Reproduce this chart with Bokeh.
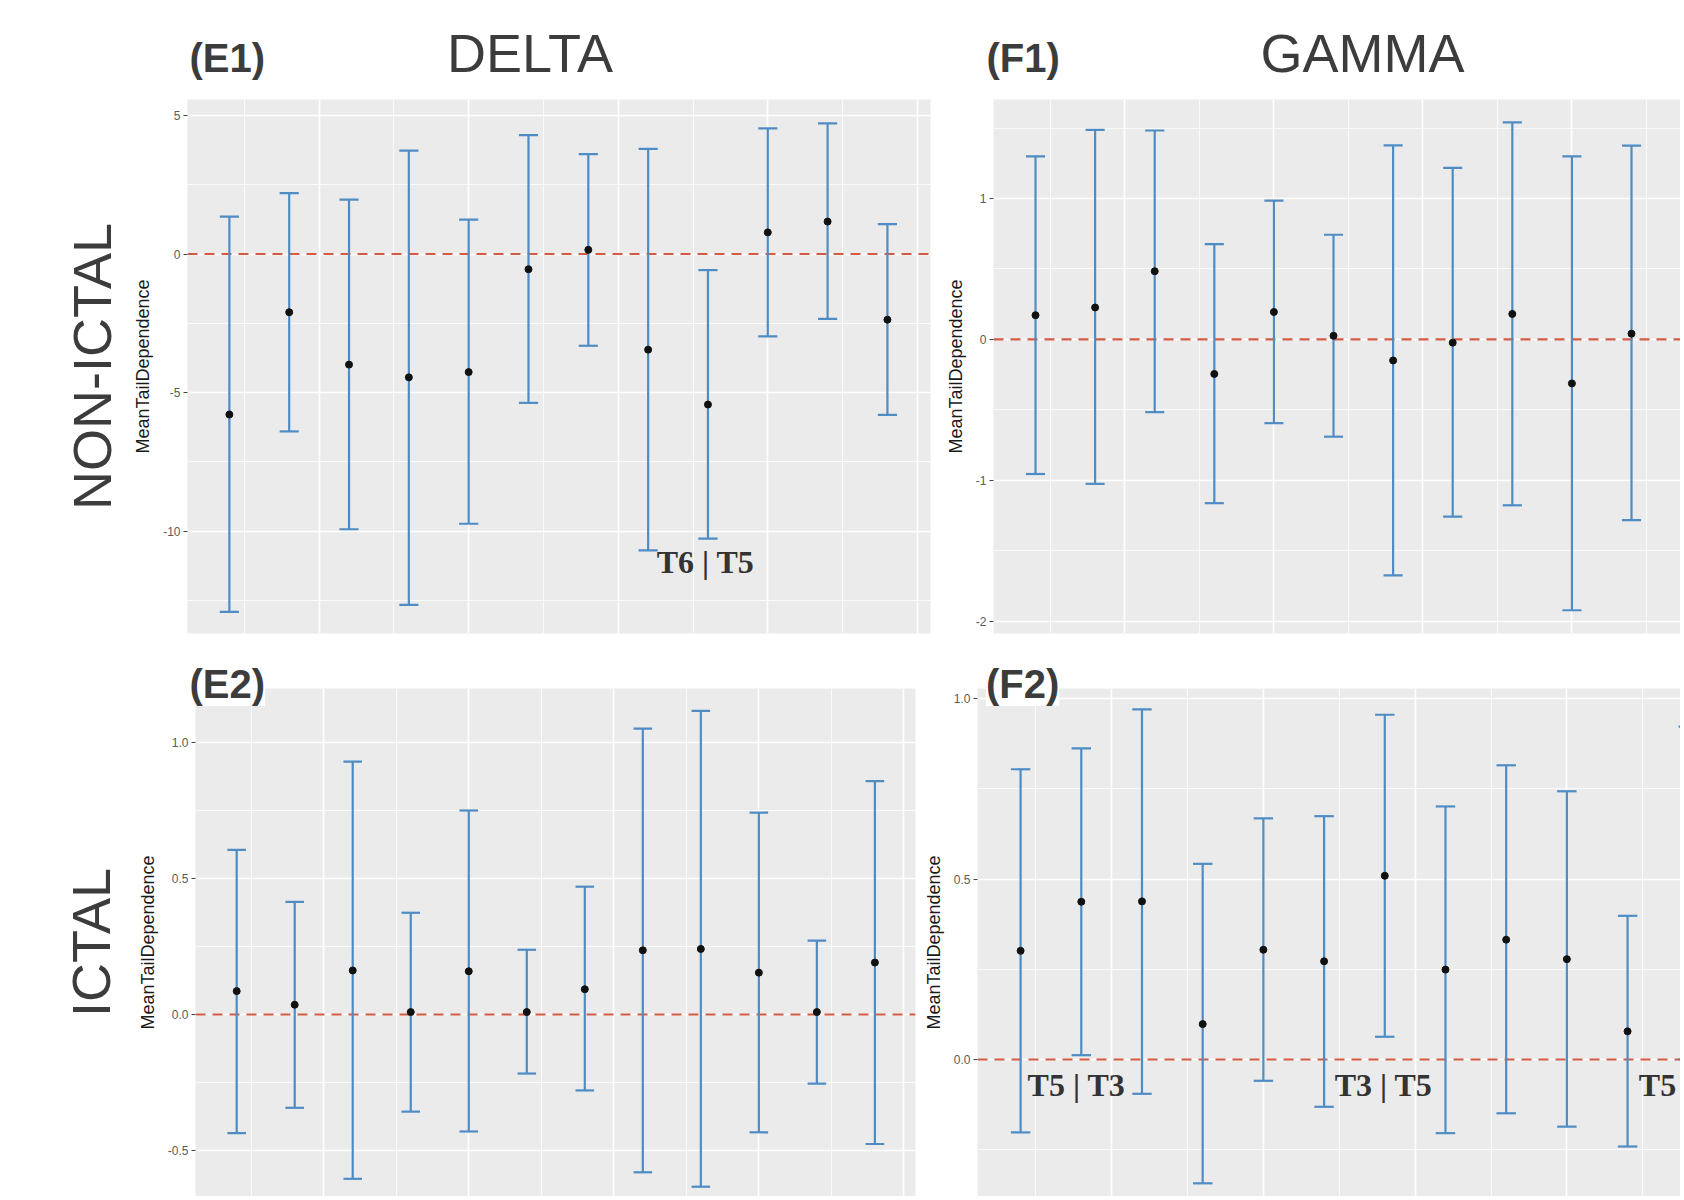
import numpy as np
from bokeh.plotting import figure
from bokeh.layouts import row, column
from bokeh.models import Range1d, FixedTicker, Span, Label, Title, ColumnDataSource
from bokeh.embed import file_html
from bokeh.resources import INLINE

# ---------------- data ----------------
pair_index = [1, 2, 3, 4, 5, 6, 7, 8, 9, 10, 11, 12]

# (E1) DELTA, NON-ICTAL
delta_nonictal_mean = [-5.79, -2.10, -3.99, -4.45, -4.26, -0.55, 0.15, -3.45, -5.43, 0.78, 1.17, -2.37]
delta_nonictal_lower = [-12.91, -6.40, -9.93, -12.66, -9.73, -5.37, -3.31, -10.69, -10.27, -2.97, -2.34, -5.80]
delta_nonictal_upper = [1.35, 2.20, 1.96, 3.73, 1.24, 4.29, 3.60, 3.79, -0.58, 4.53, 4.71, 1.08]

# (F1) GAMMA, NON-ICTAL
gamma_nonictal_mean = [0.172, 0.227, 0.484, -0.245, 0.195, 0.026, -0.149, -0.023, 0.181, -0.312, 0.041, -0.64]
gamma_nonictal_lower = [-0.955, -1.025, -0.516, -1.162, -0.594, -0.690, -1.675, -1.258, -1.177, -1.922, -1.282, -1.78]
gamma_nonictal_upper = [1.299, 1.488, 1.483, 0.676, 0.985, 0.743, 1.378, 1.218, 1.541, 1.299, 1.375, 0.507]

# (E2) DELTA, ICTAL
delta_ictal_mean = [0.086, 0.036, 0.162, 0.009, 0.159, 0.009, 0.093, 0.236, 0.241, 0.154, 0.009, 0.191]
delta_ictal_lower = [-0.436, -0.343, -0.604, -0.357, -0.430, -0.217, -0.279, -0.580, -0.633, -0.433, -0.254, -0.476]
delta_ictal_upper = [0.605, 0.414, 0.930, 0.374, 0.750, 0.238, 0.470, 1.051, 1.116, 0.742, 0.272, 0.858]

# (F2) GAMMA, ICTAL
gamma_ictal_mean = [0.301, 0.437, 0.438, 0.098, 0.304, 0.272, 0.509, 0.249, 0.332, 0.278, 0.078, 0.461]
gamma_ictal_lower = [-0.202, 0.012, -0.095, -0.343, -0.059, -0.131, 0.063, -0.204, -0.149, -0.186, -0.241, 0.0]
gamma_ictal_upper = [0.804, 0.862, 0.970, 0.542, 0.668, 0.674, 0.955, 0.701, 0.815, 0.743, 0.398, 0.922]

# tick values / labels
x_major_ticks = [2.5, 5, 7.5, 10, 12.5]
x_minor_ticks = [1.25, 3.75, 6.25, 8.75, 11.25]

e1_ticks = [5, 0, -5, -10]
e1_tick_labels = ["5", "0", "-5", "-10"]
e1_minor = [2.5, -2.5, -7.5, -12.5]

f1_ticks = [1, 0, -1, -2]
f1_tick_labels = ["1", "0", "-1", "-2"]
f1_minor = [1.5, 0.5, -0.5, -1.5]

e2_ticks = [1.0, 0.5, 0.0, -0.5]
e2_tick_labels = ["1.0", "0.5", "0.0", "-0.5"]
e2_minor = [0.75, 0.25, -0.25, -0.75]

f2_ticks = [1.0, 0.5, 0.0]
f2_tick_labels = ["1.0", "0.5", "0.0"]
f2_minor = [0.75, 0.25, -0.25]

# ---------------- styling ----------------
BAR_COLOR = "#4f8cc4"
POINT_COLOR = "#111111"
REF_COLOR = "#d35a43"
PANEL_BG = "#ebebeb"
CAP = 0.16
SANS = "Liberation Sans"
SERIF = "Liberation Serif"
TITLE_COLOR = "#3c3c3c"


def make_panel(w, h, borders, xr, yr, mean, lo, hi, ticks, tick_labels, minor):
    p = figure(width=w, height=h, x_range=Range1d(*xr), y_range=Range1d(*yr),
               output_backend="svg", toolbar_location=None, title=None,
               x_axis_location=None, y_axis_location="left",
               min_border_left=borders[0], min_border_right=borders[1],
               min_border_top=borders[2], min_border_bottom=borders[3],
               background_fill_color=PANEL_BG, border_fill_color="white",
               outline_line_color=None)
    yt = FixedTicker(ticks=ticks, minor_ticks=minor)
    ax = p.yaxis[0]
    ax.ticker = yt
    ax.major_label_overrides = {t: l for t, l in zip(ticks, tick_labels)}
    ax.axis_label = "MeanTailDependence"
    ax.axis_label_text_font = SANS
    ax.axis_label_text_font_size = "18px"
    ax.axis_label_text_font_style = "normal"
    ax.axis_label_text_color = "#1a1a1a"
    ax.axis_label_standoff = 7
    ax.axis_line_color = None
    ax.major_tick_line_color = "#444444"
    ax.major_tick_out = 4
    ax.major_tick_in = 0
    ax.minor_tick_line_color = None
    ax.major_label_text_font = SANS
    ax.major_label_text_font_size = "12px"
    ax.major_label_text_color = "#5a5a5a"
    ax.major_label_standoff = 3

    p.ygrid.ticker = yt
    p.xgrid.ticker = FixedTicker(ticks=x_major_ticks, minor_ticks=x_minor_ticks)
    for g in (p.xgrid, p.ygrid):
        g.grid_line_color = "white"
        g.grid_line_width = 1.6
        g.minor_grid_line_color = "white"
        g.minor_grid_line_width = 0.8

    p.add_layout(Span(location=0, dimension="width", line_color=REF_COLOR,
                      line_dash="10 7", line_width=2.2, level="underlay"))

    x = np.array(pair_index, dtype=float)
    src = ColumnDataSource(dict(x=x, xl=x - CAP, xr=x + CAP,
                                mean=mean, lo=lo, hi=hi))
    p.segment("x", "lo", "x", "hi", source=src, line_color=BAR_COLOR, line_width=2.2)
    p.segment("xl", "hi", "xr", "hi", source=src, line_color=BAR_COLOR, line_width=2.2)
    p.segment("xl", "lo", "xr", "lo", source=src, line_color=BAR_COLOR, line_width=2.2)
    p.scatter("x", "mean", source=src, size=7, color=POINT_COLOR)
    return p


def note(p, text, x, y, align="center"):
    p.add_layout(Label(x=x, y=y, text=text, text_font=SERIF, text_font_size="32px",
                       text_font_style="bold", text_color="#333333",
                       text_align=align, text_baseline="alphabetic"))


def header_label(p, text, x, y, size, bold=False, align="left"):
    p.add_layout(Label(x=x, y=y, x_units="screen", y_units="screen", text=text,
                       text_font=SANS, text_font_size=size,
                       text_font_style="bold" if bold else "normal",
                       text_color=TITLE_COLOR, text_align=align,
                       text_baseline="alphabetic"))


def side_title(p, text, standoff):
    p.add_layout(Title(text=text, text_font=SANS, text_font_size="54px",
                       text_font_style="normal", text_color=TITLE_COLOR,
                       align="center", vertical_align="bottom", standoff=standoff), "left")


def tag_title(p, text, offset, standoff):
    p.add_layout(Title(text=text, text_font=SANS, text_font_size="40px",
                       text_font_style="bold", text_color=TITLE_COLOR,
                       align="left", vertical_align="bottom", offset=offset,
                       standoff=standoff, background_fill_color="white"), "above")


# header strip (page y 0-95)
head = figure(width=1680, height=95, x_range=Range1d(0, 1680), y_range=Range1d(0, 95),
              output_backend="svg", toolbar_location=None, title=None,
              x_axis_location=None, y_axis_location=None,
              min_border=0, background_fill_color="white",
              border_fill_color="white", outline_line_color=None)
head.grid.visible = False
header_label(head, "(E1)", 189, 37.3, "40px", bold=True)
header_label(head, "DELTA", 529.6, 43, "54px", align="center")
header_label(head, "(F1)", 986, 37.3, "40px", bold=True)
header_label(head, "GAMMA", 1362, 43, "54px", align="center")

# E1 : frame page x 187-930, y 99-633
e1 = make_panel(935, 565, (187, 5, 4, 27), (0.30, 12.72), (-13.69, 5.574),
                delta_nonictal_mean, delta_nonictal_lower, delta_nonictal_upper,
                e1_ticks, e1_tick_labels, e1_minor)
side_title(e1, "NON-ICTAL", 18)
note(e1, "T6 | T5", 8.96, -11.11)

# F1 : frame page x 993-1680, y 95-634
f1 = make_panel(745, 565, (58, 0, 0, 26), (0.295, 11.822), (-2.087, 1.703),
                gamma_nonictal_mean, gamma_nonictal_lower, gamma_nonictal_upper,
                f1_ticks, f1_tick_labels, f1_minor)

# E2 : frame page x 195-915, y 688-1196
e2 = make_panel(920, 536, (195, 5, 28, 0), (0.29, 12.70), (-0.669, 1.1985),
                delta_ictal_mean, delta_ictal_lower, delta_ictal_upper,
                e2_ticks, e2_tick_labels, e2_minor)
side_title(e2, "ICTAL", 27)
tag_title(e2, "(E2)", -6, -35)

# F2 : frame page x 977-1680, y 688-1196
f2 = make_panel(760, 536, (57, 0, 28, 0), (0.29, 11.872), (-0.3795, 1.0277),
                gamma_ictal_mean, gamma_ictal_lower, gamma_ictal_upper,
                f2_ticks, f2_tick_labels, f2_minor)
tag_title(f2, "(F2)", 8.5, -35)
note(f2, "T5 | T3", 1.92, -0.0707)
note(f2, "T3 | T5", 6.98, -0.0707)
note(f2, "T5", 11.80, -0.0707, align="right")

layout = column(head, row(e1, f1, spacing=0), row(e2, f2, spacing=0), spacing=0)

open("out.html", "w").write(file_html(layout, INLINE))
